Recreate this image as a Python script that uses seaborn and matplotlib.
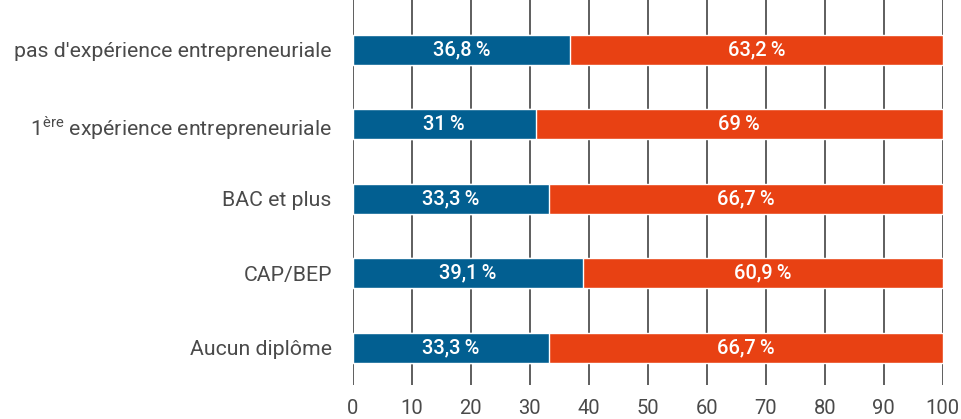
import matplotlib
matplotlib.use("Agg")
import matplotlib.pyplot as plt
import seaborn as sns
import pandas as pd

categories = ["pas d'expérience entrepreneuriale",
              "1$^{\\mathrm{ère}}$ expérience entrepreneuriale",
              "BAC et plus",
              "CAP/BEP",
              "Aucun diplôme"]
part_bleue = [36.8, 31.0, 33.3, 39.1, 33.3]
part_orange = [63.2, 69.0, 66.7, 60.9, 66.7]
labels_bleu = ["36,8\u2009%", "31\u2009%", "33,3\u2009%", "39,1\u2009%", "33,3\u2009%"]
labels_orange = ["63,2\u2009%", "69\u2009%", "66,7\u2009%", "60,9\u2009%", "66,7\u2009%"]

BLEU = "#025f91"
ORANGE = "#e84113"

sns.set_style("white")
plt.rcParams['font.family'] = ['Roboto', 'DejaVu Sans']
plt.rcParams['mathtext.fontset'] = 'custom'
plt.rcParams['mathtext.rm'] = 'Roboto'

df = pd.DataFrame({'cat': categories, 'bleu': part_bleue,
                   'total': [b + o for b, o in zip(part_bleue, part_orange)]})

fig = plt.figure(figsize=(9.61, 4.19), dpi=100)
ax = fig.add_axes([0.367, 0.081, 0.614, 0.919])

sns.barplot(x='total', y='cat', data=df, color=ORANGE, orient='h',
            width=0.4, saturation=1, ax=ax, zorder=3)
sns.barplot(x='bleu', y='cat', data=df, color=BLEU, orient='h',
            width=0.4, saturation=1, ax=ax, zorder=4)

for i in range(len(categories)):
    b = part_bleue[i]
    ax.text(b / 2, i, labels_bleu[i], ha='center', va='center',
            color='white', fontsize=14.5, fontweight='medium', zorder=5)
    ax.text(b + part_orange[i] / 2, i, labels_orange[i], ha='center', va='center',
            color='white', fontsize=14.5, fontweight='medium', zorder=5)

ax.set_xlim(0, 100)
ax.set_ylim(4.5, -0.67)
ax.set_xticks(range(0, 101, 10))
ax.xaxis.grid(True, color='#333333', linewidth=1.1, zorder=0)
ax.set_axisbelow(True)
for s in ax.spines.values():
    s.set_visible(False)
ax.tick_params(axis='x', length=0, labelsize=14.5, colors='#4a4a4a', pad=10)
ax.tick_params(axis='y', length=0, labelsize=15.3, colors='#4a4a4a', pad=15)
ax.set_xlabel('')
ax.set_ylabel('')

fig.savefig('out.png', dpi=100)
